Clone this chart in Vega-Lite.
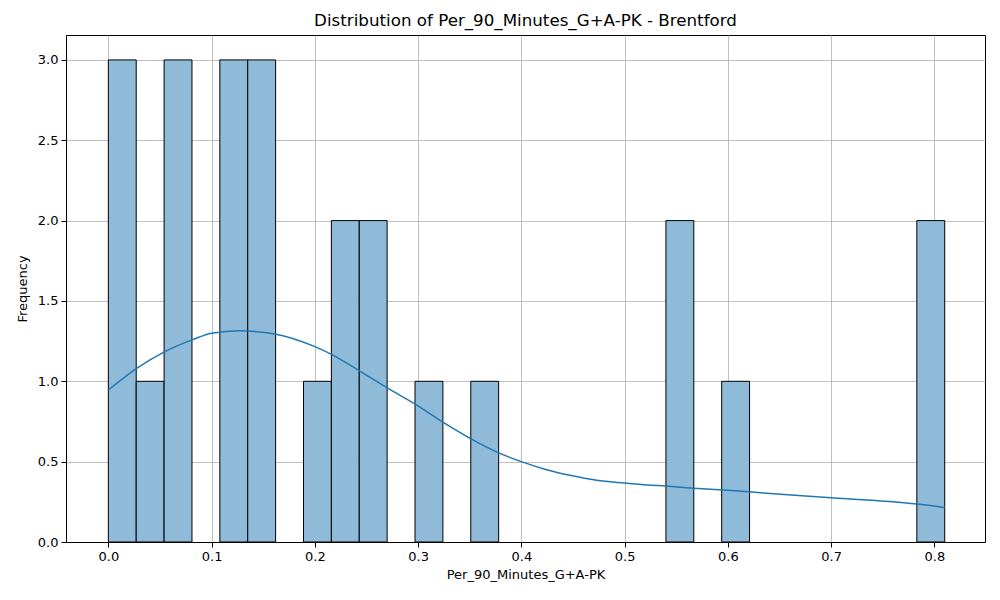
{
  "$schema": "https://vega.github.io/schema/vega-lite/v6.json",
  "autosize": {"type": "none"},
  "padding": {"left": 66, "top": 35, "right": 15, "bottom": 58},
  "width": 919,
  "height": 507,
  "background": "white",
  "title": {
    "text": "Distribution of Per_90_Minutes_G+A-PK - Brentford",
    "font": "DejaVu Sans",
    "fontSize": 16.7,
    "fontWeight": "normal",
    "color": "black",
    "anchor": "middle",
    "offset": 5
  },
  "datasets": {
    "bins": [
      {"bin_start": 0.0, "bin_end": 0.027, "count": 3},
      {"bin_start": 0.027, "bin_end": 0.054, "count": 1},
      {"bin_start": 0.054, "bin_end": 0.081, "count": 3},
      {"bin_start": 0.108, "bin_end": 0.135, "count": 3},
      {"bin_start": 0.135, "bin_end": 0.162, "count": 3},
      {"bin_start": 0.189, "bin_end": 0.216, "count": 1},
      {"bin_start": 0.216, "bin_end": 0.243, "count": 2},
      {"bin_start": 0.243, "bin_end": 0.27, "count": 2},
      {"bin_start": 0.297, "bin_end": 0.324, "count": 1},
      {"bin_start": 0.351, "bin_end": 0.378, "count": 1},
      {"bin_start": 0.54, "bin_end": 0.567, "count": 2},
      {"bin_start": 0.594, "bin_end": 0.621, "count": 1},
      {"bin_start": 0.783, "bin_end": 0.81, "count": 2}
    ],
    "kde": [
      {"x": 0.0, "density": 0.946},
      {"x": 0.0274, "density": 1.081},
      {"x": 0.0548, "density": 1.185},
      {"x": 0.0823, "density": 1.261},
      {"x": 0.1, "density": 1.299},
      {"x": 0.1274, "density": 1.315},
      {"x": 0.1468, "density": 1.307},
      {"x": 0.1613, "density": 1.295},
      {"x": 0.2, "density": 1.216},
      {"x": 0.2161, "density": 1.168},
      {"x": 0.2435, "density": 1.064},
      {"x": 0.271, "density": 0.956},
      {"x": 0.2984, "density": 0.853},
      {"x": 0.3232, "density": 0.749},
      {"x": 0.3598, "density": 0.612},
      {"x": 0.3776, "density": 0.556},
      {"x": 0.4, "density": 0.5},
      {"x": 0.4244, "density": 0.45},
      {"x": 0.447, "density": 0.415},
      {"x": 0.473, "density": 0.384},
      {"x": 0.5, "density": 0.367},
      {"x": 0.522, "density": 0.355},
      {"x": 0.54, "density": 0.348},
      {"x": 0.567, "density": 0.335},
      {"x": 0.6, "density": 0.322},
      {"x": 0.621, "density": 0.312},
      {"x": 0.651, "density": 0.297},
      {"x": 0.7, "density": 0.276},
      {"x": 0.7485, "density": 0.255},
      {"x": 0.783, "density": 0.236},
      {"x": 0.81, "density": 0.215}
    ]
  },
  "layer": [
    {
      "data": {"name": "bins"},
      "mark": {"type": "bar", "fill": "#8fbbd9", "stroke": "black", "strokeWidth": 1},
      "encoding": {
        "x": {
          "field": "bin_start",
          "type": "quantitative",
          "scale": {"domain": [-0.041, 0.849], "nice": false, "zero": false},
          "axis": {
            "title": "Per_90_Minutes_G+A-PK",
            "values": [0, 0.1, 0.2, 0.3, 0.4, 0.5, 0.6, 0.7, 0.8],
            "format": ".1f"
          }
        },
        "x2": {"field": "bin_end"},
        "y": {
          "field": "count",
          "type": "quantitative",
          "scale": {"domain": [0, 3.155], "nice": false},
          "axis": {
            "title": "Frequency",
            "values": [0, 0.5, 1, 1.5, 2, 2.5, 3],
            "format": ".1f"
          }
        },
        "y2": {"datum": 0}
      }
    },
    {
      "data": {"name": "kde"},
      "mark": {"type": "line", "color": "#1f77b4", "strokeWidth": 1.5, "interpolate": "monotone"},
      "encoding": {
        "x": {"field": "x", "type": "quantitative"},
        "y": {"field": "density", "type": "quantitative"}
      }
    }
  ],
  "config": {
    "font": "DejaVu Sans",
    "view": {"stroke": "black", "strokeWidth": 1},
    "axis": {
      "zindex": 1,
      "grid": true,
      "gridColor": "#b0b0b0",
      "gridWidth": 0.8,
      "domainColor": "black",
      "domainWidth": 1,
      "tickColor": "black",
      "tickSize": 5,
      "labelFont": "DejaVu Sans",
      "labelFontSize": 13,
      "labelColor": "black",
      "labelPadding": 3,
      "titleFont": "DejaVu Sans",
      "titleFontSize": 13,
      "titleFontWeight": "normal",
      "titleColor": "black"
    },
    "axisX": {"titlePadding": 5},
    "axisY": {"titlePadding": 8}
  }
}
